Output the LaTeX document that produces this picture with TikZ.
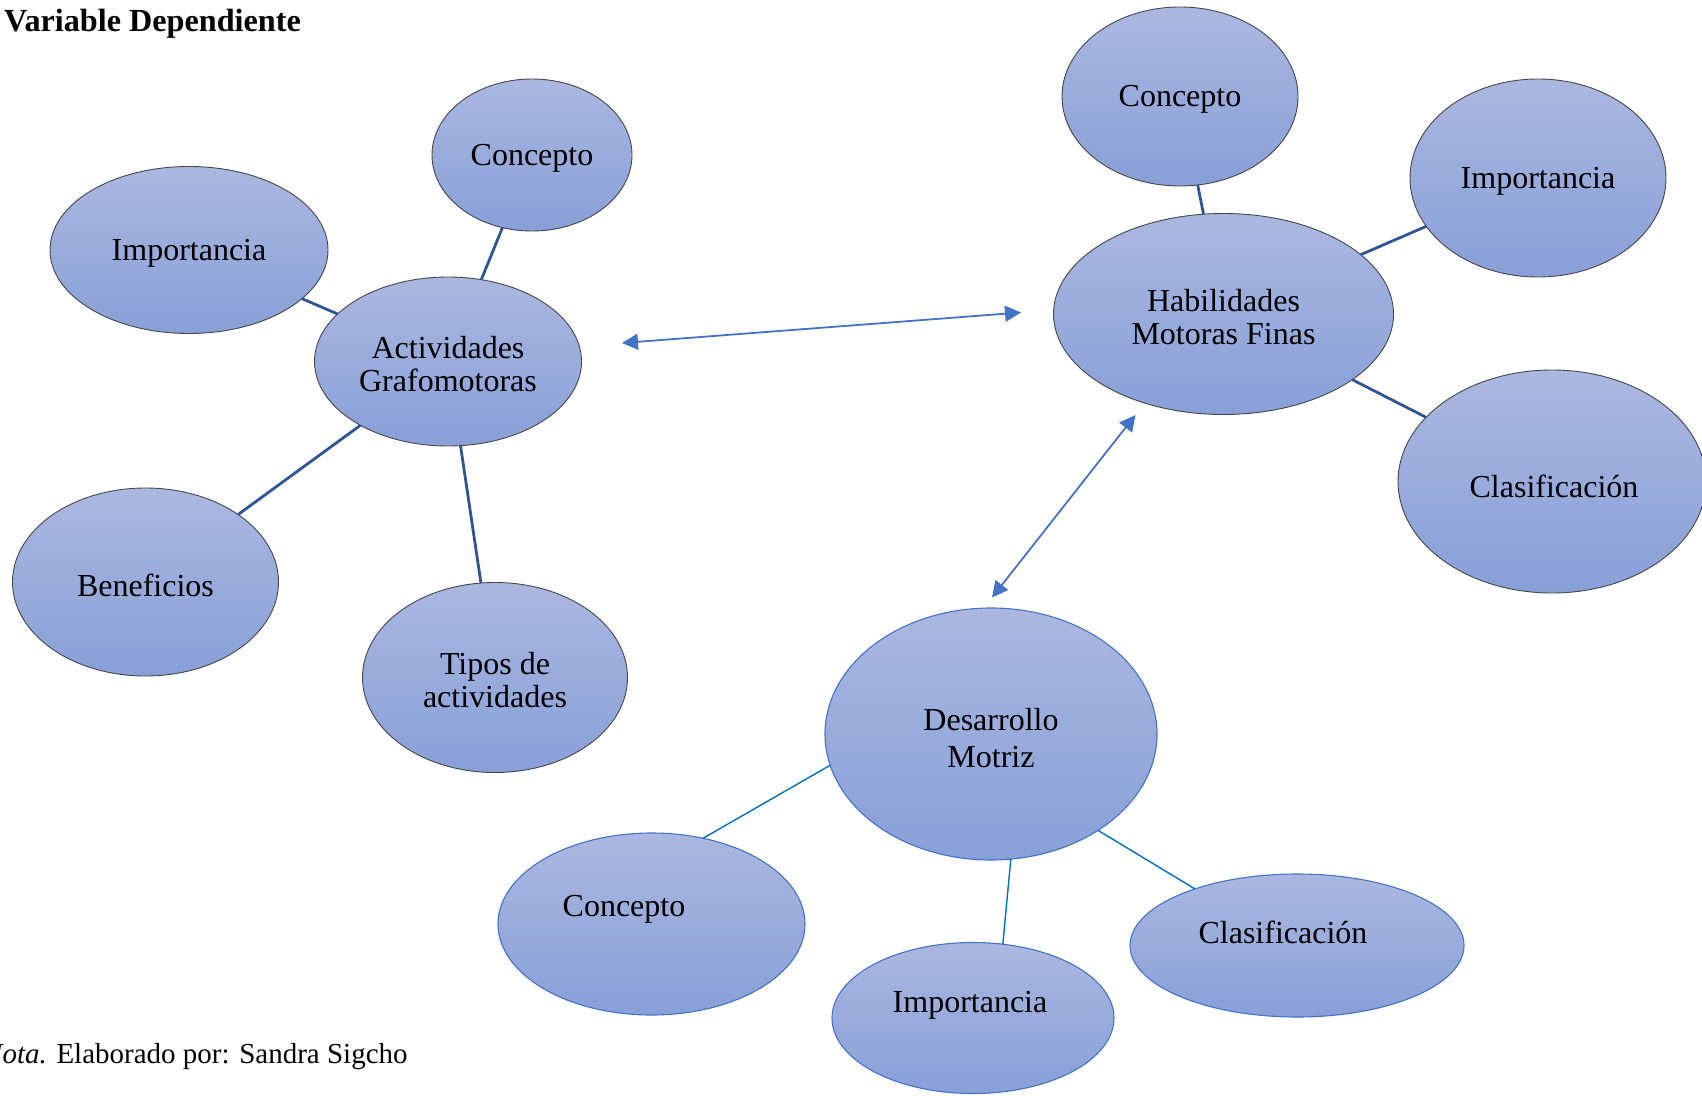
\documentclass[tikz,border=0pt]{standalone}
\usepackage{fontspec}
\setmainfont{Liberation Serif}
\usetikzlibrary{shapes.geometric,arrows.meta,calc}
\definecolor{ftop}{RGB}{170,183,224}
\definecolor{fbot}{RGB}{136,160,216}
\definecolor{gborder}{RGB}{70,70,70}
\definecolor{bborder}{RGB}{68,114,196}
\definecolor{darkline}{RGB}{47,85,151}
\definecolor{lightline}{RGB}{0,112,192}
\definecolor{arrowc}{RGB}{68,114,196}
\tikzset{
  bub/.style={ellipse, inner sep=0pt, outer sep=0pt, top color=ftop, bottom color=fbot, draw=gborder, line width=0.9pt},
  bubb/.style={bub, draw=bborder, line width=1.1pt},
  txt/.style={font=\fontsize{32}{33}\selectfont, align=center, inner sep=0pt, text=black, yshift=-3pt},
  darkconn/.style={draw=darkline, line width=2.8pt},
  lightconn/.style={draw=lightline, line width=1.4pt},
  dblarrow/.style={draw=arrowc, line width=1.8pt, {Triangle[length=16pt,width=16pt]}-{Triangle[length=16pt,width=16pt]}}
}
\begin{document}
\begin{tikzpicture}[x=1pt,y=-1pt]
\useasboundingbox (0,0) rectangle (1702,1095);
% cluster 1
\node[bub, minimum width=267pt, minimum height=169pt] (ag) at (448,361.5) {};
\node[bub, minimum width=200pt, minimum height=152pt] (c1) at (532,155) {};
\node[bub, minimum width=278pt, minimum height=167pt] (i1) at (189,250) {};
\node[bub, minimum width=266pt, minimum height=188pt] (b1) at (145.5,582) {};
\node[bub, minimum width=265pt, minimum height=190pt] (t1) at (495,677.5) {};
% cluster 2
\node[bub, minimum width=340pt, minimum height=201pt] (hm) at (1223.5,314) {};
\node[bub, minimum width=236pt, minimum height=179pt] (c2) at (1180,96.5) {};
\node[bub, minimum width=256pt, minimum height=198pt] (i2) at (1538,178) {};
\node[bub, minimum width=308pt, minimum height=223pt] (k2) at (1552,481.5) {};
% cluster 3
\node[bubb, minimum width=332pt, minimum height=252pt] (dm) at (991,734) {};
\node[bubb, minimum width=307pt, minimum height=182pt] (c3) at (651.5,924) {};
\node[bubb, minimum width=282pt, minimum height=151pt] (i3) at (973,1018) {};
\node[bubb, minimum width=334pt, minimum height=143pt] (k3) at (1297,945.5) {};
% connectors
\draw[darkconn] (ag) -- (c1);
\draw[darkconn] (ag) -- (i1);
\draw[darkconn] (ag) -- (b1);
\draw[darkconn] (ag) -- (t1);
\draw[darkconn] (hm) -- (c2);
\draw[darkconn] (hm) -- (i2);
\draw[darkconn] (hm) -- (k2);
\draw[lightconn] (dm.191.8) -- (c3.59.3);
\draw[lightconn] (dm.279.3) -- (i3.68.5);
\draw[lightconn] (dm.318.8) -- (k3.151.8);
% arrows
\coordinate (a1) at (622,343);
\coordinate (a2) at (1021,312.5);
\coordinate (a3) at (1135.5,415);
\coordinate (a4) at (992,597.5);
\draw[dblarrow] (a1) -- (a2);
\draw[dblarrow] (a3) -- (a4);
% texts
\node[txt] (tag) at (ag) {Actividades\\Grafomotoras};
\node[txt] (tc1) at (c1) {Concepto};
\node[txt] (ti1) at (i1) {Importancia};
\node[txt] (tb1) at (b1) {Beneficios};
\node[txt] (tt1) at (t1) {Tipos de\\actividades};
\node[txt] (thm) at (hm) {Habilidades\\Motoras Finas};
\node[txt] (tc2) at (c2) {Concepto};
\node[txt] (ti2) at (i2) {Importancia};
\node[txt] (tk2) at (1554,483) {Clasificación};
\node[txt, font=\fontsize{32}{37}\selectfont] (tdm) at (991,735) {Desarrollo\\Motriz};
\node[txt] (tc3) at (624,906) {Concepto};
\node[txt] (ti3) at (970,1002) {Importancia};
\node[txt] (tk3) at (1283,929) {Clasificación};
% title and note
\node[anchor=base west, inner sep=0pt, font=\fontsize{32.2}{34}\selectfont\bfseries] (title) at (4,31.5) {Variable Dependiente};
\node[anchor=base west, inner sep=0pt, font=\fontsize{29}{31}\selectfont] (note) at (-17,1063) {\textit{Nota.} Elaborado por: Sandra Sigcho};
\end{tikzpicture}
\end{document}
